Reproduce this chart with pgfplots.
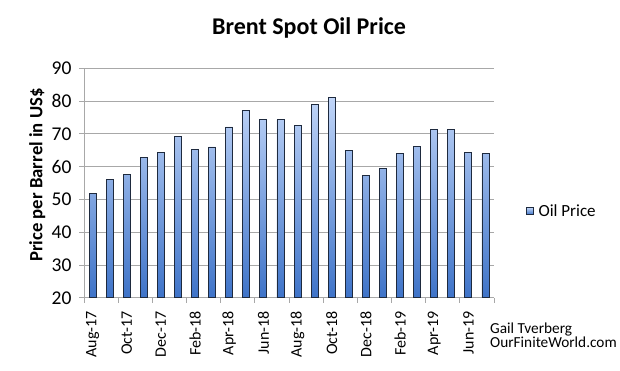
\documentclass[border=0pt]{standalone}
\usepackage{pgfplots}
\pgfplotsset{compat=1.18}
\usepackage{fontspec}
\setmainfont{Carlito}
\definecolor{gridgray}{RGB}{168,168,168}
\definecolor{bartop}{RGB}{192,213,248}
\definecolor{barbot}{RGB}{62,115,200}
\definecolor{barline}{RGB}{30,42,62}
\begin{document}
\begin{tikzpicture}[x=1pt,y=1pt]
\useasboundingbox (0,0) rectangle (620,370);
\begin{axis}[
  at={(84pt,72.2pt)}, anchor=south west,
  scale only axis, width=410pt, height=229.5pt,
  xmin=-0.5, xmax=23.5, ymin=20, ymax=90,
  axis x line*=bottom, axis y line*=left,
  axis line style={gridgray, line width=1pt},
  ytick={20,30,...,90},
  ymajorgrids, major grid style={gridgray, line width=1pt},
  /pgf/number format/assume math mode=true,
  yticklabel style={font=\fontsize{19.5}{21}\selectfont, xshift=-4pt},
  ytick style={gridgray, line width=1pt},
  tick align=outside, major tick length=5pt,
  xtick={-0.5,1.5,...,23.5}, xticklabels={},
  xtick style={gridgray, line width=1pt},
  extra x ticks={0,2,...,22},
  extra x tick labels={Aug-17,Oct-17,Dec-17,Feb-18,Apr-18,Jun-18,Aug-18,Oct-18,Dec-18,Feb-19,Apr-19,Jun-19},
  extra x tick style={major tick length=0pt, grid=none,
    xticklabel style={rotate=90, anchor=east, font=\fontsize{16}{18}\selectfont, xshift=-10pt}},
  title={Brent Spot Oil Price},
  title style={at={(0.549,1.119)}, anchor=base, font=\bfseries\fontsize{24}{27}\selectfont, inner sep=0pt},
  ylabel={Price per Barrel in US\$},
  ylabel style={at={(axis description cs:-0.114,0.535)}, anchor=center, font=\bfseries\fontsize{18.7}{21}\selectfont},
  legend style={at={(1.077,0.378)}, anchor=west, draw=none, fill=none,
    font=\fontsize{17}{19}\selectfont, inner sep=0pt, cells={anchor=west}},
  legend image code/.code={\draw[#1, line width=0.6pt] (0pt,-3.5pt) rectangle (7pt,3.5pt); \path (10pt,0pt);},
]
\addplot[ybar, bar width=7pt, draw=barline, line width=0.9pt, top color=bartop, bottom color=barbot]
coordinates {
(0,51.9) (1,56.2) (2,57.5) (3,62.7) (4,64.4) (5,69.1) (6,65.3) (7,66.0)
(8,72.1) (9,77.0) (10,74.4) (11,74.3) (12,72.5) (13,78.9) (14,81.0) (15,64.8)
(16,57.4) (17,59.4) (18,64.0) (19,66.1) (20,71.2) (21,71.3) (22,64.2) (23,63.9)
};
\addlegendentry{Oil Price}
\end{axis}
\node[anchor=base west, inner sep=0pt, font=\fontsize{15.3}{17}\selectfont] at (490,37) {Gail Tverberg};
\node[anchor=base west, inner sep=0pt, font=\fontsize{15.3}{17}\selectfont] at (490,23) {OurFiniteWorld.com};
\end{tikzpicture}
\end{document}
